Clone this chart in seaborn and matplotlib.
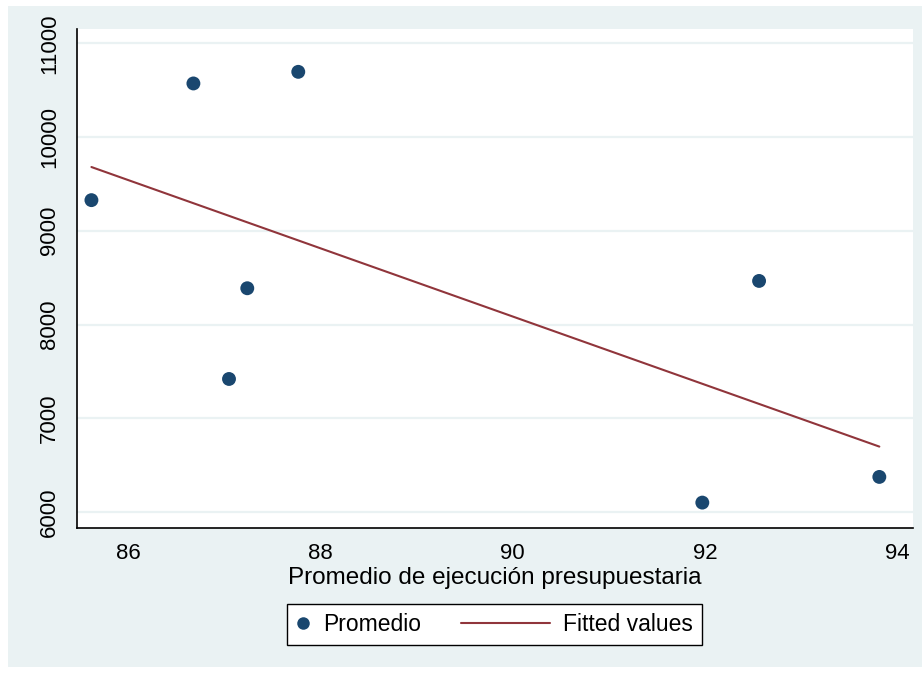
import numpy as np
import pandas as pd
import matplotlib
matplotlib.use("Agg")
import matplotlib.pyplot as plt
from matplotlib.patches import Rectangle
from matplotlib.legend_handler import HandlerLine2D
from matplotlib.lines import Line2D
import seaborn as sns

# valores
ejecucion = [85.62, 86.68, 87.05, 87.24, 87.77, 91.97, 92.56, 93.81]
promedio = [9327, 10572, 7419, 8387, 10696, 6100, 8465, 6374]
xticks = [86, 88, 90, 92, 94]
yticks = [6000, 7000, 8000, 9000, 10000, 11000]

df = pd.DataFrame({"ejecucion": ejecucion, "promedio": promedio})

navy = "#1a476f"
maroon = "#90353b"
bg = "#eaf2f3"

sns.set_style("white")
plt.rcParams["font.family"] = ["Liberation Sans", "DejaVu Sans"]
plt.rcParams["text.color"] = "black"
plt.rcParams["axes.labelcolor"] = "black"
plt.rcParams["xtick.color"] = "black"
plt.rcParams["ytick.color"] = "black"
fs = 16

fig = plt.figure(figsize=(9.22, 6.73), dpi=100)
fig.patch.set_facecolor("white")
fig.patches.append(Rectangle((8 / 922, 6 / 673), 1, 661 / 673, transform=fig.transFigure,
                             facecolor=bg, edgecolor="none", zorder=-5))

ax = fig.add_axes([77 / 922, 145 / 673, (913 - 77) / 922, (528 - 29) / 673])
ax.set_zorder(1)
ax.set_facecolor("white")

sns.regplot(data=df, x="ejecucion", y="promedio", scatter=False, ci=None, ax=ax,
            color=maroon, line_kws={"lw": 1.5, "zorder": 2})
sns.scatterplot(data=df, x="ejecucion", y="promedio", ax=ax, color=navy, s=100,
                edgecolor="none", zorder=3)

ax.set_xlim(85.47, 94.16)
ax.set_ylim(5829, 11153)
ax.set_xticks(xticks)
ax.set_yticks(yticks)
ax.set_yticklabels([str(v) for v in yticks], rotation=90, va="center")
ax.grid(axis="y", color=bg, lw=1.6)
ax.set_axisbelow(True)

for s in ["top", "right"]:
    ax.spines[s].set_visible(False)
for s in ["left", "bottom"]:
    ax.spines[s].set_color("black")
    ax.spines[s].set_linewidth(1.2)

ax.tick_params(axis="both", direction="out", length=6, width=1, color="#222222",
               labelsize=fs, labelcolor="black")
ax.tick_params(axis="x", pad=5)
ax.tick_params(axis="y", pad=6)
ax.set_xlabel("Promedio de ejecución presupuestaria", fontsize=17.5, labelpad=2, color="black")
ax.set_ylabel("")


class LongLine(HandlerLine2D):
    def create_artists(self, legend, orig_handle, xdescent, ydescent, width, height, fontsize, trans):
        extra = 54
        return super().create_artists(legend, orig_handle, xdescent + extra, ydescent,
                                      width + extra, height, fontsize, trans)


h_pt = Line2D([], [], marker="o", ls="none", color=navy, markersize=9, markeredgewidth=0)
h_ln = Line2D([], [], color=maroon, lw=1.5)
leg = fig.legend([h_pt, h_ln], ["Promedio", "Fitted values"], ncol=2, loc="center",
                 bbox_to_anchor=(494.5 / 922, 1 - 624.5 / 673), fontsize=16.5,
                 handlelength=0.6, handletextpad=0.6, columnspacing=5.0,
                 frameon=True, fancybox=False, borderpad=0.4, framealpha=1,
                 handler_map={h_ln: LongLine()})
leg.get_frame().set_edgecolor("black")
leg.get_frame().set_linewidth(1.0)
leg.get_frame().set_facecolor("white")
for t in leg.get_texts():
    t.set_color("black")

fig.savefig("out.png", dpi=100)
